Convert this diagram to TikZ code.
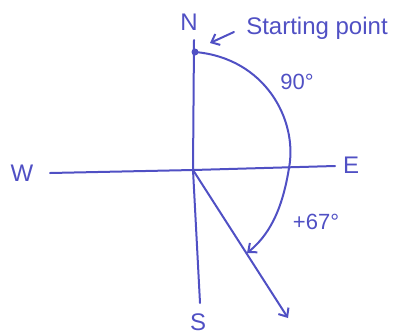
\documentclass[tikz,border=0pt]{standalone}
\usepackage{fontspec}
\setmainfont{Liberation Sans}
\usetikzlibrary{arrows.meta}
\definecolor{pen}{RGB}{80,80,196}
\tikzset{
  compass/.style={font=\fontsize{24}{26}\selectfont},
  anglelabel/.style={font=\fontsize{22}{24}\selectfont},
  barb/.style={-{Straight Barb[length=7pt,width=12pt,line width=2pt]}},
  startdot/.style={circle, fill=pen, inner sep=0pt, minimum size=7pt}
}
\begin{document}
\begin{tikzpicture}[x=1pt, y=-1pt, line width=2pt, color=pen, line cap=round]
\useasboundingbox (0,0) rectangle (395,335);
% compass letters
\node[compass] (N) at (189,22) {N};
\node[compass] (S) at (198,322) {S};
\node[compass] (W) at (22,173) {W};
\node[compass] (E) at (351,165) {E};
% axes
\coordinate (O) at (193,170);
\coordinate (ntop) at (194,40);
\coordinate (sbot) at (200,303);
\coordinate (wend) at (50,173);
\coordinate (eend) at (335,166);
\draw (ntop) -- (O) -- (sbot);
\draw (wend) -- (O) -- (eend);
% starting point and the turn
\node[startdot] (start) at (195,52) {};
\coordinate (arcend) at (247,253);
\draw[barb] (start.center) .. controls (265,58) and (298,120) .. (289,168)
  .. controls (282,212) and (268,236) .. (arcend);
\coordinate (tip) at (288,318);
\draw[barb] (O) -- (tip);
% labels
\node[compass] (sp) at (317,28) {Starting point};
\draw[barb] ([xshift=-8pt,yshift=-4pt]sp.west) -- ([xshift=15pt,yshift=9pt]start.center);
\node[anglelabel] (ninety) at (297,82) {90°};
\node[anglelabel] (plus) at (316,222) {+67°};
\end{tikzpicture}
\end{document}
